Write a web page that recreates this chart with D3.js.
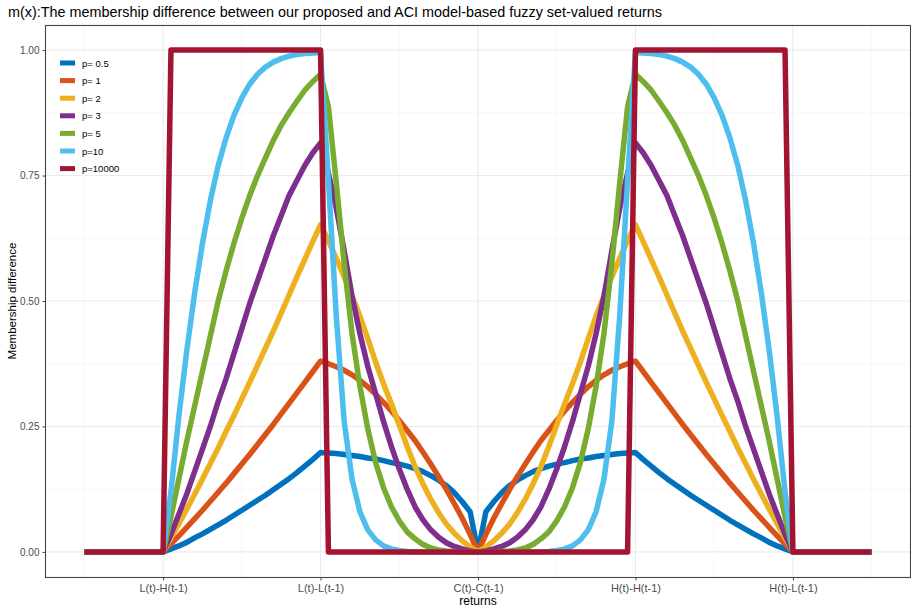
<!DOCTYPE html>
<html>
<head>
<meta charset="utf-8">
<script src="https://cdn.jsdelivr.net/npm/d3@7"></script>
<style>
  body { margin: 0; background: #fff; }
  svg { font-family: "Liberation Sans", Arial, sans-serif; }
</style>
</head>
<body>
<svg width="911" height="608"></svg>
<script>
// x grid (returns)
const xs = [0.5, 1, 1.05, 1.1, 1.15, 1.2, 1.25, 1.3, 1.35, 1.4, 1.45, 1.5, 1.55, 1.6, 1.65, 1.7, 1.75, 1.8, 1.85, 1.9, 1.95,
  2, 2.05, 2.1, 2.15, 2.2, 2.25, 2.3, 2.35, 2.4, 2.45, 2.5, 2.55, 2.6, 2.65, 2.7, 2.75, 2.8, 2.85, 2.9, 2.95,
  3, 3.05, 3.1, 3.15, 3.2, 3.25, 3.3, 3.35, 3.4, 3.45, 3.5, 3.55, 3.6, 3.65, 3.7, 3.75, 3.8, 3.85, 3.9, 3.95,
  4, 4.05, 4.1, 4.15, 4.2, 4.25, 4.3, 4.35, 4.4, 4.45, 4.5, 4.55, 4.6, 4.65, 4.7, 4.75, 4.8, 4.85, 4.9, 4.95, 5, 5.5];

const p05 = [0, 0, .006, .012, .019, .028, .036, .045, .054, .063, .073, .083, .093, .103, .113, .124, .135, .146, .158, .171, .184,
  .198, .197, .196, .194, .192, .190, .187, .185, .182, .178, .175, .171, .166, .160, .152, .143, .132, .118, .100, .080,
  0, .080, .100, .118, .132, .143, .152, .160, .166, .171, .175, .178, .182, .185, .187, .190, .192, .194, .196, .197,
  .198, .184, .171, .158, .146, .135, .124, .113, .103, .093, .083, .073, .063, .054, .045, .036, .028, .019, .012, .006, 0, 0];

const p1 = [0, 0, .016, .032, .049, .066, .083, .101, .119, .137, .156, .175, .194, .214, .234, .254, .275, .296, .317, .338, .359,
  .380, .375, .369, .362, .353, .342, .329, .314, .298, .281, .262, .242, .222, .199, .175, .150, .124, .096, .067, .035,
  0, .035, .067, .096, .124, .150, .175, .199, .222, .242, .262, .281, .298, .314, .329, .342, .353, .362, .369, .375,
  .380, .359, .338, .317, .296, .275, .254, .234, .214, .194, .175, .156, .137, .119, .101, .083, .066, .049, .032, .016, 0, 0];

const p2 = [0, 0, .028, .056, .085, .115, .145, .176, .207, .240, .272, .305, .338, .372, .406, .440, .476, .512, .548, .583, .618,
  .652, .620, .585, .548, .510, .470, .425, .378, .335, .295, .253, .210, .170, .136, .105, .078, .055, .037, .022, .010,
  0, .010, .022, .037, .055, .078, .105, .136, .170, .210, .253, .295, .335, .378, .425, .470, .510, .548, .585, .620,
  .652, .618, .583, .548, .512, .476, .440, .406, .372, .338, .305, .272, .240, .207, .176, .145, .115, .085, .056, .028, 0, 0];

const p3 = [0, 0, .035, .075, .115, .160, .205, .250, .300, .345, .395, .445, .495, .540, .585, .630, .670, .710, .740, .770, .795,
  .815, .755, .685, .600, .510, .435, .370, .315, .260, .210, .165, .125, .090, .064, .044, .029, .018, .011, .006, .002,
  0, .002, .006, .011, .018, .029, .044, .064, .090, .125, .165, .210, .260, .315, .370, .435, .510, .600, .685, .755,
  .815, .795, .770, .740, .710, .670, .630, .585, .540, .495, .445, .395, .345, .300, .250, .205, .160, .115, .075, .035, 0, 0];

const p5 = [0, 0, .070, .145, .220, .290, .360, .430, .500, .560, .615, .665, .710, .750, .785, .820, .850, .875, .898, .920, .937,
  .952, .887, .735, .575, .435, .330, .245, .178, .128, .090, .062, .040, .026, .015, .008, .004, .002, .001, 0, 0,
  0, 0, 0, .001, .002, .004, .008, .015, .026, .040, .062, .090, .128, .178, .245, .330, .435, .575, .735, .887,
  .952, .937, .920, .898, .875, .850, .820, .785, .750, .710, .665, .615, .560, .500, .430, .360, .290, .220, .145, .070, 0, 0];

const p10 = [0, 0, .12, .27, .40, .515, .615, .70, .77, .825, .87, .905, .932, .952, .966, .976, .983, .988, .991, .993, .994,
  .995, .74, .47, .26, .145, .08, .044, .024, .012, .006, .003, .001, 0, 0, 0, 0, 0, 0, 0, 0,
  0, 0, 0, 0, 0, 0, 0, 0, 0, .001, .003, .006, .012, .024, .044, .08, .145, .26, .47, .74,
  .995, .994, .993, .991, .988, .983, .976, .966, .952, .932, .905, .87, .825, .77, .70, .615, .515, .40, .27, .12, 0, 0];

const p10000 = [0, 0, 1, 1, 1, 1, 1, 1, 1, 1, 1, 1, 1, 1, 1, 1, 1, 1, 1, 1, 1,
  1, 0, 0, 0, 0, 0, 0, 0, 0, 0, 0, 0, 0, 0, 0, 0, 0, 0, 0, 0,
  0, 0, 0, 0, 0, 0, 0, 0, 0, 0, 0, 0, 0, 0, 0, 0, 0, 0, 0, 0,
  1, 1, 1, 1, 1, 1, 1, 1, 1, 1, 1, 1, 1, 1, 1, 1, 1, 1, 1, 1, 0, 0];

const seriesNames = ["p= 0.5", "p= 1", "p= 2", "p= 3", "p= 5", "p=10", "p=10000"];
const seriesValues = [p05, p1, p2, p3, p5, p10, p10000];
const seriesColors = ["#0072BD", "#D95319", "#EDB120", "#7E2F8E", "#77AC30", "#4DBEEE", "#A2142F"];

const xTicks = [1, 2, 3, 4, 5];
const xLabels = ["L(t)-H(t-1)", "L(t)-L(t-1)", "C(t)-C(t-1)", "H(t)-H(t-1)", "H(t)-L(t-1)"];
const xMinor = [0.5, 1.5, 2.5, 3.5, 4.5, 5.5];
const yTicks = [0, 0.25, 0.5, 0.75, 1];
const yMinor = [0.125, 0.375, 0.625, 0.875];

const svg = d3.select("svg");

// panel
const pLeft = 45, pRight = 911, pTop = 25, pBottom = 577;
const x = d3.scaleLinear().domain([0.25, 5.75]).range([pLeft, pRight]);
const y = d3.scaleLinear().domain([-0.05, 1.05]).range([pBottom, pTop]);

// title
svg.append("text")
  .attr("x", 8)
  .attr("y", 17)
  .attr("font-size", 14.4)
  .attr("fill", "#000")
  .text("m(x):The membership difference between our proposed and ACI model-based fuzzy set-valued returns");

// grid
const grid = svg.append("g");
grid.selectAll(".xminor").data(xMinor).join("line")
  .attr("x1", d => x(d)).attr("x2", d => x(d))
  .attr("y1", pTop).attr("y2", pBottom)
  .attr("stroke", "#f2f2f2").attr("stroke-width", 0.6);
grid.selectAll(".yminor").data(yMinor).join("line")
  .attr("x1", pLeft).attr("x2", pRight)
  .attr("y1", d => y(d)).attr("y2", d => y(d))
  .attr("stroke", "#f2f2f2").attr("stroke-width", 0.6);
grid.selectAll(".xmajor").data(xTicks).join("line")
  .attr("x1", d => x(d)).attr("x2", d => x(d))
  .attr("y1", pTop).attr("y2", pBottom)
  .attr("stroke", "#ebebeb").attr("stroke-width", 1.1);
grid.selectAll(".ymajor").data(yTicks).join("line")
  .attr("x1", pLeft).attr("x2", pRight)
  .attr("y1", d => y(d)).attr("y2", d => y(d))
  .attr("stroke", "#ebebeb").attr("stroke-width", 1.1);

// curves
const line = d3.line()
  .x((d, i) => x(xs[i]))
  .y(d => y(d));

svg.append("g")
  .selectAll("path")
  .data(seriesValues)
  .join("path")
  .attr("d", d => line(d))
  .attr("fill", "none")
  .attr("stroke", (d, i) => seriesColors[i])
  .attr("stroke-width", 5.5)
  .attr("stroke-linejoin", "round")
  .attr("stroke-linecap", "butt");

// border
svg.append("rect")
  .attr("x", pLeft + 0.5).attr("y", pTop + 0.5)
  .attr("width", pRight - pLeft - 1).attr("height", pBottom - pTop)
  .attr("fill", "none").attr("stroke", "#444").attr("stroke-width", 1.1);

// axes
const xAxis = svg.append("g")
  .attr("transform", `translate(0,${pBottom + 0.5})`)
  .call(d3.axisBottom(x).tickValues(xTicks).tickFormat((d, i) => xLabels[i]).tickSize(3).tickPadding(4));
const yAxis = svg.append("g")
  .attr("transform", `translate(${pLeft + 0.5},0)`)
  .call(d3.axisLeft(y).tickValues(yTicks).tickFormat(d3.format(".2f")).tickSize(3).tickPadding(3));

[xAxis, yAxis].forEach(a => {
  a.select(".domain").remove();
  a.selectAll(".tick line").attr("stroke", "#444");
  a.selectAll(".tick text").attr("fill", "#4d4d4d")
    .attr("font-family", "Liberation Sans, Arial, sans-serif");
});
xAxis.selectAll(".tick text").attr("font-size", 11);
yAxis.selectAll(".tick text").attr("font-size", 10);

// axis titles
svg.append("text")
  .attr("x", x(3)).attr("y", 605)
  .attr("text-anchor", "middle")
  .attr("font-size", 12)
  .text("returns");
svg.append("text")
  .attr("transform", `translate(16,${(pTop + pBottom) / 2}) rotate(-90)`)
  .attr("text-anchor", "middle")
  .attr("font-size", 11.5)
  .text("Membership difference");

// legend
const legend = svg.append("g").attr("transform", "translate(60,63)");
const rowH = 17.6;
seriesNames.forEach((name, i) => {
  legend.append("line")
    .attr("x1", 0).attr("x2", 15)
    .attr("y1", i * rowH).attr("y2", i * rowH)
    .attr("stroke", seriesColors[i]).attr("stroke-width", 5);
  legend.append("text")
    .attr("x", 22).attr("y", i * rowH + 3.5)
    .attr("font-size", 9.5)
    .attr("fill", "#000")
    .text(name);
});
</script>
</body>
</html>
